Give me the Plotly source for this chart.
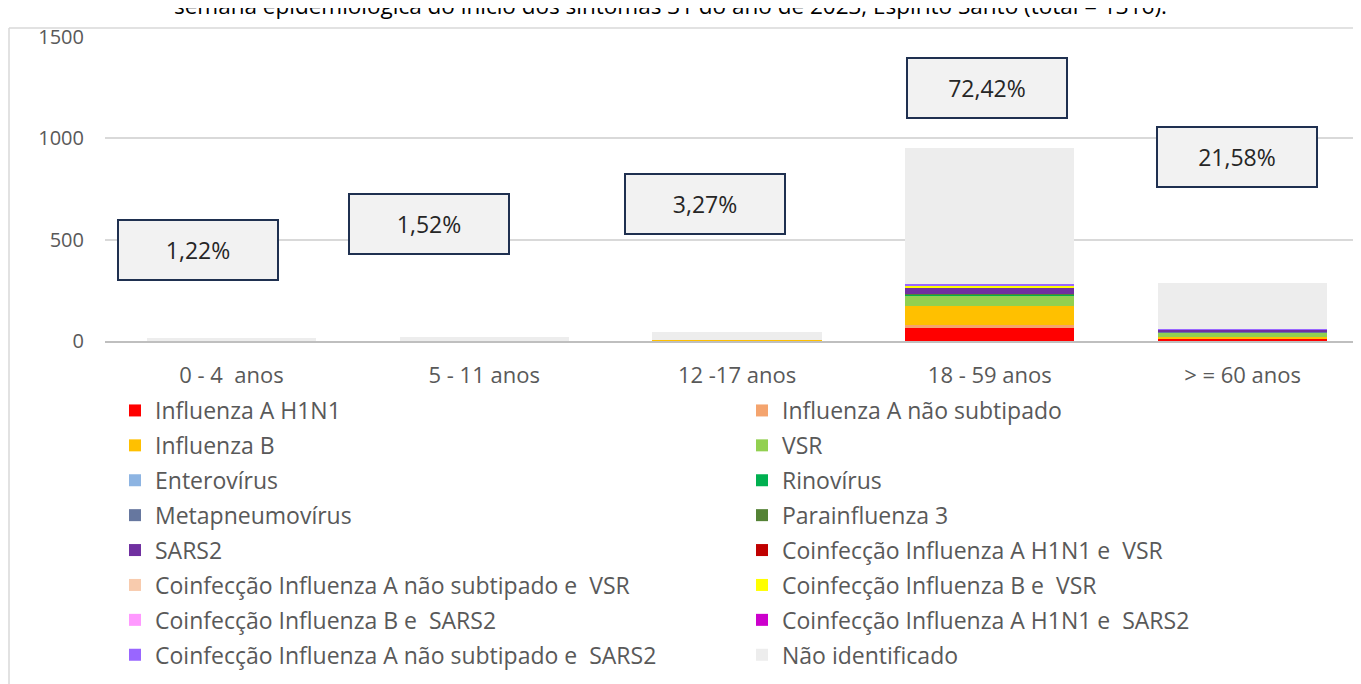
import plotly.graph_objects as go

# ---- data ----
categories = ["0 - 4  anos", "5 - 11 anos", "12 -17 anos", "18 - 59 anos", "> = 60 anos"]

series_names = [
    "Influenza A H1N1",
    "Influenza A não subtipado",
    "Influenza B",
    "VSR",
    "Enterovírus",
    "Rinovírus",
    "Metapneumovírus",
    "Parainfluenza 3",
    "SARS2",
    "Coinfecção Influenza A H1N1 e  VSR",
    "Coinfecção Influenza A não subtipado e  VSR",
    "Coinfecção Influenza B e  VSR",
    "Coinfecção Influenza B e  SARS2",
    "Coinfecção Influenza A H1N1 e  SARS2",
    "Coinfecção Influenza A não subtipado e  SARS2",
    "Não identificado",
]

flu_a_h1n1 = [0, 0, 0, 66, 10]
flu_a_nao_sub = [0, 1, 0, 13, 2]
flu_b = [0, 0, 5, 94, 9]
vsr = [1, 0, 0, 51, 21]
enterovirus = [0, 0, 0, 1, 0]
rinovirus = [0, 0, 0, 5, 1]
metapneumo = [0, 0, 0, 1, 1]
parainfluenza3 = [0, 0, 0, 1, 0]
sars2 = [0, 0, 1, 31, 11]
co_h1n1_vsr = [0, 0, 0, 1, 0]
co_ans_vsr = [0, 1, 0, 1, 0]
co_b_vsr = [0, 0, 0, 9, 0]
co_b_sars2 = [0, 0, 0, 1, 1]
co_h1n1_sars2 = [0, 0, 0, 1, 1]
co_ans_sars2 = [0, 0, 0, 6, 4]
nao_identificado = [15, 18, 37, 671, 223]

series_values = [
    flu_a_h1n1, flu_a_nao_sub, flu_b, vsr, enterovirus, rinovirus, metapneumo,
    parainfluenza3, sars2, co_h1n1_vsr, co_ans_vsr, co_b_vsr, co_b_sars2,
    co_h1n1_sars2, co_ans_sars2, nao_identificado,
]

COLORS = [
    "#FF0000", "#F4A46E", "#FFC000", "#92D050", "#8DB4E2", "#00B050",
    "#66779F", "#548235", "#7030A0", "#C00000", "#F8CBAD", "#FFFF00",
    "#FF99FF", "#CC00CC", "#9966FF", "#EDEDED",
]

FONT = "'Open Sans', sans-serif"
TEXT = "#595959"
W, H = 1361, 684
OFF = 8  # the page puts the figure 8px in from the top-left corner
M = dict(l=97, r=0, t=29, b=351, autoexpand=False)


def px_x(x):
    # screen pixel -> paper fraction
    return (x - OFF - M["l"]) / (W - M["l"] - M["r"])


def px_y(y):
    return (H - M["b"] - (y - OFF)) / (H - M["t"] - M["b"])


fig = go.Figure()

for i, (name, vals) in enumerate(zip(series_names, series_values)):
    fig.add_trace(go.Bar(
        x=categories,
        y=vals,
        name=name,
        marker=dict(color=COLORS[i], line=dict(width=0)),
        legend="legend" if i % 2 == 0 else "legend2",
        legendgroup=f"g{i}",
    ))

# percentage boxes
totals = [sum(v[k] for v in series_values) for k in range(len(categories))]
grand = sum(totals)
box_y = [449, 577, 676, 1249, 908]
box_shift = [-33, -55, -32, -3, -6]
for cat, tot, by, sh in zip(categories, totals, box_y, box_shift):
    pct = f"{100 * tot / grand:.2f}".replace(".", ",") + "%"
    fig.add_annotation(
        x=cat, y=by, xref="x", yref="y", xshift=sh,
        text=pct, showarrow=False,
        font=dict(family=FONT, size=23, color="#262626"),
        bgcolor="#F2F2F2", bordercolor="#1F3050", borderwidth=2,
        borderpad=1, width=156, height=56,
    )

# title, cut off at the top of the picture
fig.add_annotation(
    x=px_x(670), y=px_y(6), xref="paper", yref="paper",
    xanchor="center", yanchor="middle",
    text=f"semana epidemiológica do início dos sintomas 31 do ano de 2023, Espírito Santo (total = {grand}).",
    showarrow=False, font=dict(family=FONT, size=22.5, color="#000000"),
)

# chart area border (left and top)
fig.add_shape(type="line", xref="paper", yref="paper",
              x0=px_x(9), x1=px_x(9), y0=px_y(28), y1=px_y(720),
              line=dict(color="#D9D9D9", width=1.5))
fig.add_shape(type="line", xref="paper", yref="paper",
              x0=px_x(9), x1=px_x(1400), y0=px_y(28), y1=px_y(28),
              line=dict(color="#D9D9D9", width=1.5))

legend_style = dict(
    orientation="v", xref="container", yref="container",
    xanchor="left", yanchor="top",
    font=dict(family=FONT, size=23, color=TEXT),
    bgcolor="rgba(0,0,0,0)", traceorder="grouped", tracegroupgap=2,
)

fig.update_layout(
    width=W, height=H, margin=M,
    paper_bgcolor="white", plot_bgcolor="white",
    barmode="stack", bargap=0.33,
    font=dict(family=FONT, color=TEXT),
    showlegend=True,
    legend=dict(x=107 / W, y=1 - 381 / H, **legend_style),
    legend2=dict(x=734 / W, y=1 - 381 / H, **legend_style),
    xaxis=dict(
        type="category", range=[-0.5, 4.5],
        showline=True, linecolor="#BFBFBF", linewidth=2,
        showgrid=False, ticks="", ticklabelstandoff=14, tickangle=0,
        tickfont=dict(family=FONT, size=22, color=TEXT),
    ),
    yaxis=dict(
        range=[0, 1500], tickvals=[0, 500, 1000, 1500],
        showgrid=True, gridcolor="#D9D9D9", gridwidth=1.5,
        zeroline=False, showline=False, ticks="", ticklabelstandoff=20,
        tickfont=dict(family=FONT, size=20, color=TEXT),
    ),
)

fig.write_html("out.html")
